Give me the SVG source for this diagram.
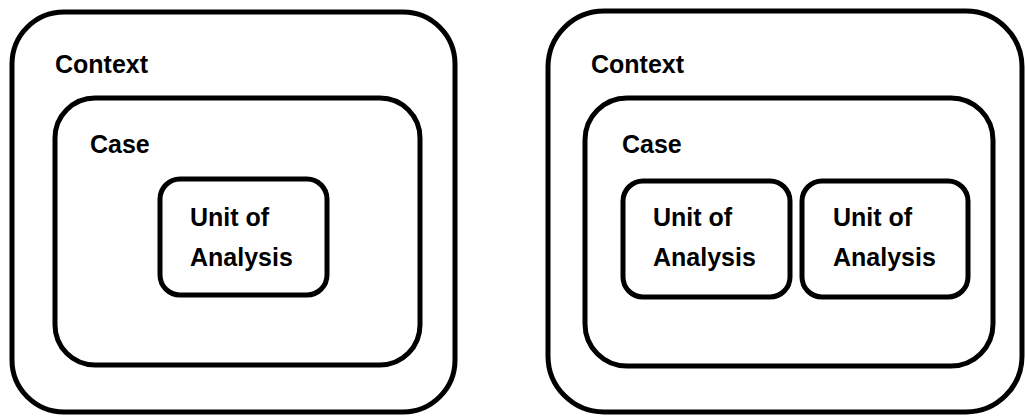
<svg xmlns="http://www.w3.org/2000/svg" width="1025" height="417" viewBox="0 0 1025 417">
  <style>
    .box { fill: none; stroke: #000; stroke-width: 5; }
    .lbl { font-family: "Liberation Sans", Arial, sans-serif; font-weight: bold; font-size: 25px; fill: #000; }
  </style>
  <rect width="1025" height="417" fill="#fff"/>

  <!-- Left: single-unit case -->
  <g id="context-left">
    <rect class="box" x="12" y="12" width="443" height="400" rx="52" ry="52"/>
    <text class="lbl" x="55" y="73">Context</text>
  </g>
  <g id="case-left">
    <rect class="box" x="55" y="98" width="365" height="267" rx="40" ry="40"/>
    <text class="lbl" x="90" y="153">Case</text>
  </g>
  <g id="unit-left">
    <rect class="box" x="160" y="179" width="167" height="116" rx="20" ry="20"/>
    <text class="lbl" x="190" y="226">Unit of</text>
    <text class="lbl" x="190" y="266">Analysis</text>
  </g>

  <!-- Right: embedded units case -->
  <g id="context-right">
    <rect class="box" x="548" y="11" width="474" height="401" rx="56" ry="56"/>
    <text class="lbl" x="591" y="73">Context</text>
  </g>
  <g id="case-right">
    <rect class="box" x="585" y="98" width="408" height="268" rx="42" ry="42"/>
    <text class="lbl" x="622" y="153">Case</text>
  </g>
  <g id="unit-right-1">
    <rect class="box" x="623" y="181" width="167" height="116" rx="20" ry="20"/>
    <text class="lbl" x="653" y="226">Unit of</text>
    <text class="lbl" x="653" y="266">Analysis</text>
  </g>
  <g id="unit-right-2">
    <rect class="box" x="802" y="181" width="166" height="116" rx="20" ry="20"/>
    <text class="lbl" x="833" y="226">Unit of</text>
    <text class="lbl" x="833" y="266">Analysis</text>
  </g>

  <g id="connectors"/>
</svg>
